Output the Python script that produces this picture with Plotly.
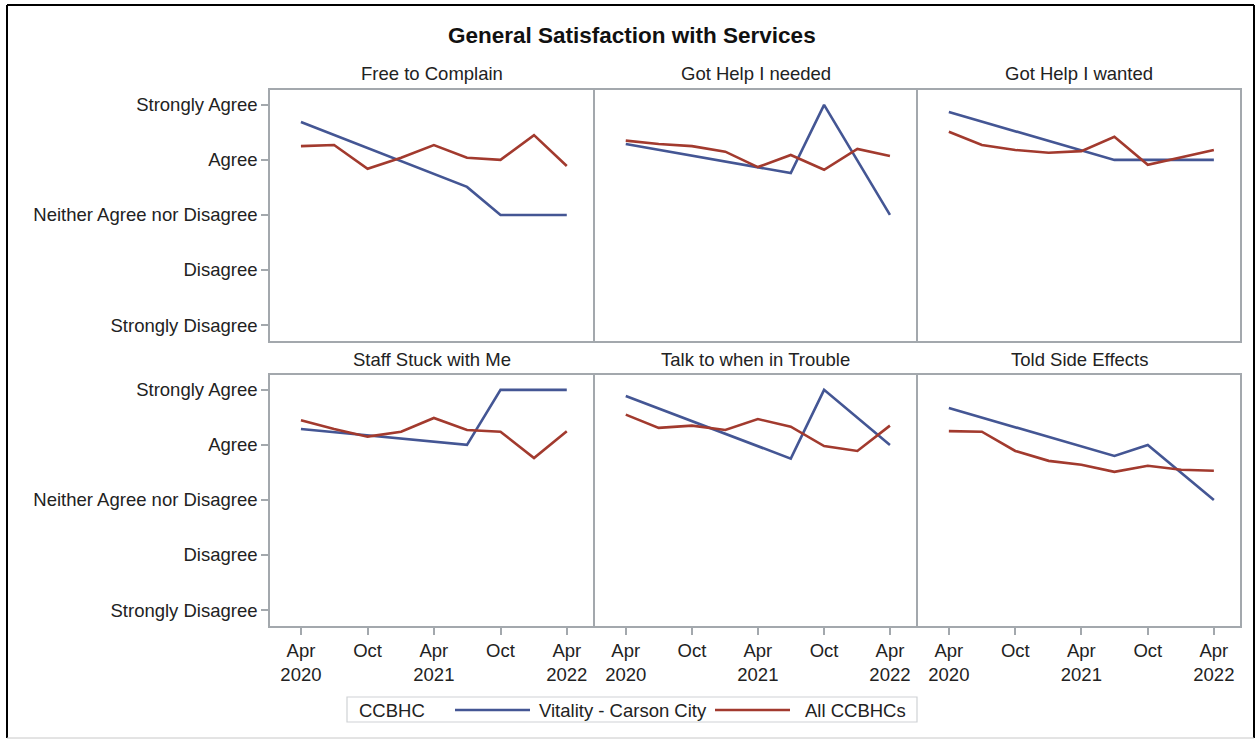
import plotly.graph_objects as go

W, H = 1257, 740

panel_titles = ["Free to Complain", "Got Help I needed", "Got Help I wanted",
                "Staff Stuck with Me", "Talk to when in Trouble", "Told Side Effects"]

red_dates = ["2020-04-01", "2020-07-01", "2020-10-01", "2021-01-01", "2021-04-01",
             "2021-07-01", "2021-10-01", "2022-01-01", "2022-04-01"]
blue_dates = ["2020-04-01", "2021-07-01", "2021-10-01", "2022-04-01"]

# All CCBHCs (red)
all_free_complain = [4.25, 4.27, 3.84, 4.04, 4.27, 4.04, 4.00, 4.45, 3.89]
all_help_needed = [4.35, 4.29, 4.25, 4.15, 3.87, 4.09, 3.82, 4.20, 4.07]
all_help_wanted = [4.51, 4.27, 4.18, 4.13, 4.16, 4.42, 3.91, 4.04, 4.18]
all_staff_stuck = [4.45, 4.29, 4.15, 4.24, 4.49, 4.27, 4.24, 3.76, 4.25]
all_talk_trouble = [4.55, 4.31, 4.35, 4.27, 4.47, 4.33, 3.98, 3.89, 4.35]
all_side_effects = [4.25, 4.24, 3.89, 3.71, 3.64, 3.51, 3.62, 3.55, 3.53]

# Vitality - Carson City (blue)
vit_free_complain = [4.69, 3.51, 3.00, 3.00]
vit_help_needed = [4.29, 3.76, 5.00, 3.00]
vit_help_wanted = [4.87, 4.00, 4.00, 4.00]
vit_staff_stuck = [4.29, 4.00, 5.00, 5.00]
vit_talk_trouble = [4.89, 3.75, 5.00, 4.00]
vit_side_effects = [4.67, 3.80, 4.00, 3.00]

red_series = [all_free_complain, all_help_needed, all_help_wanted,
              all_staff_stuck, all_talk_trouble, all_side_effects]
blue_series = [vit_free_complain, vit_help_needed, vit_help_wanted,
               vit_staff_stuck, vit_talk_trouble, vit_side_effects]

series_names = ["Vitality - Carson City", "All CCBHCs"]
legend_title = "CCBHC"

y_tickvals = [1, 2, 3, 4, 5]
y_ticktext = ["Strongly Disagree", "Disagree", "Neither Agree nor Disagree", "Agree", "Strongly Agree"]
x_tickvals = ["2020-04-01", "2020-10-01", "2021-04-01", "2021-10-01", "2022-04-01"]
x_ticktext = ["Apr<br>2020", "Oct", "Apr<br>2021", "Oct", "Apr<br>2022"]

BLUE = "#445694"
RED = "#A23A2E"
BORDER = "#a3a8ad"
FONT = "Liberation Sans, Arial, sans-serif"
FS = 18.5
TXT = "#222"

col_px = [(270, 593), (595, 916), (918, 1240)]
row_px = [(90, 341), (375, 626)]

fig = go.Figure()
layout = dict(
    width=W, height=H,
    margin=dict(l=0, r=0, t=0, b=0),
    paper_bgcolor="white", plot_bgcolor="white",
    font=dict(family=FONT, size=FS, color=TXT),
    showlegend=False,
)

annotations = []
for i in range(6):
    r, c = divmod(i, 3)
    idx = i + 1
    xa = "x" if idx == 1 else f"x{idx}"
    ya = "y" if idx == 1 else f"y{idx}"
    fig.add_trace(go.Scatter(x=blue_dates, y=blue_series[i], mode="lines",
                             line=dict(color=BLUE, width=2.6),
                             name=series_names[0], xaxis=xa, yaxis=ya))
    fig.add_trace(go.Scatter(x=red_dates, y=red_series[i], mode="lines",
                             line=dict(color=RED, width=2.6),
                             name=series_names[1], xaxis=xa, yaxis=ya))
    x0, x1 = col_px[c]
    y0, y1 = row_px[r]
    xdom = [x0 / W, x1 / W]
    ydom = [1 - y1 / H, 1 - y0 / H]
    xkey = "xaxis" if idx == 1 else f"xaxis{idx}"
    ykey = "yaxis" if idx == 1 else f"yaxis{idx}"
    layout[xkey] = dict(
        domain=xdom, anchor=ya, type="date",
        range=["2020-01-07", "2022-06-12"],
        tickvals=x_tickvals, ticktext=x_ticktext,
        showticklabels=(r == 1), ticks="outside" if r == 1 else "",
        ticklen=7, tickcolor=BORDER, tickwidth=1.5,
        showgrid=False, zeroline=False,
        showline=True, mirror=True, linecolor=BORDER, linewidth=1.5,
        tickfont=dict(size=FS, family=FONT, color=TXT),
        automargin=False,
    )
    layout[ykey] = dict(
        domain=ydom, anchor=xa, range=[0.71, 5.27],
        tickvals=y_tickvals, ticktext=y_ticktext,
        showticklabels=(c == 0), ticks="outside" if c == 0 else "",
        ticklen=7, tickcolor=BORDER, tickwidth=1.5,
        showgrid=False, zeroline=False,
        showline=True, mirror=True, linecolor=BORDER, linewidth=1.5,
        tickfont=dict(size=FS, family=FONT, color=TXT),
        automargin=False,
    )
    annotations.append(dict(
        text=panel_titles[i], x=(x0 + x1) / 2 / W, y=1 - (y0 - 16) / H,
        xref="paper", yref="paper", showarrow=False,
        xanchor="center", yanchor="middle",
        font=dict(size=FS, family=FONT, color=TXT),
    ))

annotations.append(dict(
    text="<b>General Satisfaction with Services</b>", x=632 / W, y=1 - 36 / H,
    xref="paper", yref="paper", showarrow=False, xanchor="center", yanchor="middle",
    font=dict(size=22.5, family=FONT, color="#111"),
))

# manual legend (matches the reference's long line samples)
LEG_Y = 1 - 710 / H
for txt, px in [(legend_title, 357), (series_names[0], 537), (series_names[1], 803)]:
    annotations.append(dict(
        text=txt, x=px / W, y=LEG_Y, xref="paper", yref="paper", showarrow=False,
        xanchor="left", yanchor="middle", font=dict(size=FS, family=FONT, color=TXT),
    ))

layout["annotations"] = annotations

shapes = [
    dict(type="rect", xref="paper", yref="paper", x0=347 / W, x1=917 / W,
         y0=1 - 722 / H, y1=1 - 697 / H, line=dict(color="#cfd2d5", width=1.2),
         fillcolor="white", layer="below"),
    dict(type="line", xref="paper", yref="paper", x0=455 / W, x1=530 / W, y0=LEG_Y, y1=LEG_Y,
         line=dict(color=BLUE, width=2.6)),
    dict(type="line", xref="paper", yref="paper", x0=715 / W, x1=790 / W, y0=LEG_Y, y1=LEG_Y,
         line=dict(color=RED, width=2.6)),
    dict(type="line", xref="paper", yref="paper", x0=7 / W, x1=1254 / W, y0=1 - 5 / H, y1=1 - 5 / H,
         line=dict(color="black", width=2)),
    dict(type="line", xref="paper", yref="paper", x0=7 / W, x1=7 / W, y0=1 - 5 / H, y1=1 - 738 / H,
         line=dict(color="black", width=2)),
    dict(type="line", xref="paper", yref="paper", x0=1254 / W, x1=1254 / W, y0=1 - 5 / H, y1=1 - 738 / H,
         line=dict(color="black", width=2)),
    dict(type="line", xref="paper", yref="paper", x0=7 / W, x1=1254 / W, y0=1 - 738 / H, y1=1 - 738 / H,
         line=dict(color="#c8c8c8", width=1)),
]
layout["shapes"] = shapes
fig.update_layout(**layout)
fig.write_html("out.html", config={"displayModeBar": False},
               post_script="document.body.style.margin='0';document.body.style.overflow='hidden';")
